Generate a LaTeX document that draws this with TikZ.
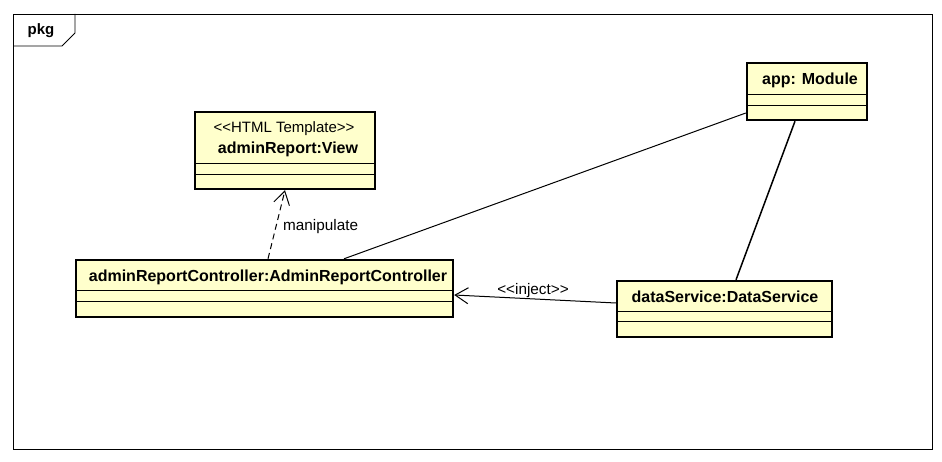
\documentclass[tikz,border=0pt]{standalone}
\usepackage{fontspec}
\setmainfont{Liberation Sans}
\usetikzlibrary{arrows.meta,calc}
\definecolor{boxfill}{RGB}{255,255,204}
\tikzset{
  umlbox/.style={draw=black, line width=2.4pt, fill=boxfill, inner sep=0pt},
  sep/.style={line width=0.8pt},
  nametext/.style={font=\bfseries\fontsize{16}{18}\selectfont, inner sep=0pt},
  stereo/.style={font=\fontsize{15}{17}\selectfont, inner sep=0pt},
  lbl/.style={font=\fontsize{15.3}{17}\selectfont, inner sep=0pt},
  conn/.style={line width=1pt},
  openarrow/.style={-{Straight Barb[length=13pt,width=16pt,line width=1pt]}},
}
\begin{document}
\begin{tikzpicture}[x=1pt,y=-1pt]
\useasboundingbox (0,0) rectangle (942,462);
\fill[white] (0,0) rectangle (942,462);
% frame
\draw[line width=0.8pt] (13,14) rectangle (932,449);
\draw[line width=0.8pt] (13,46) -- (62,46) -- (75,33) -- (75,14);
\node[font=\bfseries\fontsize{15}{17}\selectfont, inner sep=0pt] (pkg) at (41,31) {pkg};

% View box
\node[umlbox, minimum width=180pt, minimum height=77pt] (view) at (285,150.5) {};
\draw[sep] (195,163) -- (375,163);
\draw[sep] (195,174) -- (375,174);
\node[stereo] (viewst) at (284,129) {<{}<HTML Template>{}>};
\node[nametext] (viewname) at (288,149) {adminReport:View};

% Controller box
\node[umlbox, minimum width=377pt, minimum height=57pt] (ctrl) at (264.5,288.5) {};
\draw[sep] (76,290) -- (453,290);
\draw[sep] (76,301) -- (453,301);
\node[nametext] (ctrlname) at (268,277) {adminReportController:AdminReportController};

% App box
\node[umlbox, minimum width=120pt, minimum height=57pt] (app) at (807,91.5) {};
\draw[sep] (747,94) -- (867,94);
\draw[sep] (747,105) -- (867,105);
\node[nametext] (appname) at (810,80) {app: Module};

% DataService box
\node[umlbox, minimum width=215pt, minimum height=56pt] (ds) at (724.5,309) {};
\draw[sep] (617,311) -- (832,311);
\draw[sep] (617,321) -- (832,321);
\node[nametext] (dsname) at (725,297) {dataService:DataService};

% connectors
\draw[conn, dashed, dash pattern=on 6pt off 4pt, openarrow] ([xshift=3.5pt]ctrl.north) -- (view.south);
\node[lbl, anchor=west] (manip) at (283,227) {manipulate};

\draw[conn] ([xshift=79.5pt]ctrl.north) -- ([yshift=-21.5pt]app.west);
\draw[line width=1.5pt] ([xshift=-12pt]app.south) -- ([xshift=11.5pt]ds.north);

\draw[conn, openarrow] ([yshift=6pt]ds.west) -- ([yshift=-6.5pt]ctrl.east);
\node[lbl] (inj) at (533,291) {<{}<inject>{}>};
\end{tikzpicture}
\end{document}
